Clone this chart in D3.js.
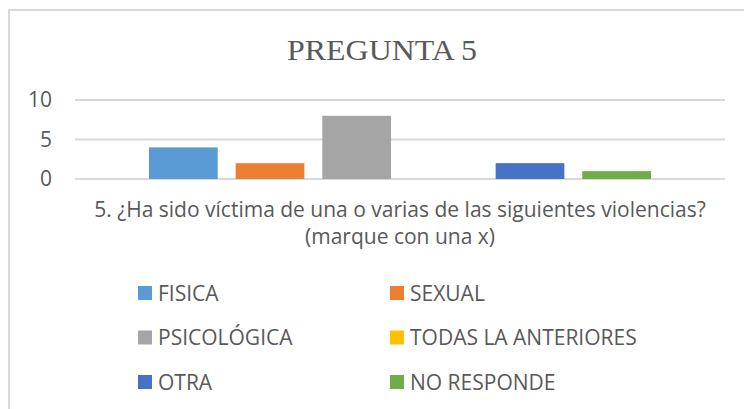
<!DOCTYPE html>
<html>
<head>
<meta charset="utf-8">
<script src="https://cdn.jsdelivr.net/npm/d3@7"></script>
<style>
  body { margin: 0; background: #fff; }
  svg { display: block; }
  text { font-family: "Open Sans", Calibri, sans-serif; fill: #595959; }
</style>
</head>
<body>
<div id="chart-area"></div>
<script>
// chart values
const series = ["FISICA", "SEXUAL", "PSICOLÓGICA", "TODAS LA ANTERIORES", "OTRA", "NO RESPONDE"];
const values = [4, 2, 8, 0, 2, 1];
const colors = ["#5B9BD5", "#ED7D31", "#A5A5A5", "#FFC000", "#4472C4", "#70AD47"];
const category = ["5. ¿Ha sido víctima de una o varias de las siguientes violencias?", "(marque con una x)"];
const yTicks = [0, 5, 10];
const title = "PREGUNTA 5";

let W = 744, H = 409;
let margin = { top: 100, left: 75, right: 19 };
let width = W - margin.left - margin.right,
  height = 179 - margin.top;

let svg = d3.select("#chart-area").append("svg")
  .attr("width", W).attr("height", H);

// chart border (only top/left visible in the crop)
svg.append("rect")
  .attr("x", 9).attr("y", 10)
  .attr("width", 760).attr("height", 420)
  .attr("fill", "none").attr("stroke", "#d9d9d9").attr("stroke-width", 2);

svg.append("text")
  .attr("x", 382).attr("y", 60)
  .attr("text-anchor", "middle")
  .attr("textLength", 190).attr("lengthAdjust", "spacingAndGlyphs")
  .style("font-family", "'Liberation Serif', 'Times New Roman', serif")
  .style("font-size", "29px")
  .text(title);

let g = svg.append("g")
  .attr("transform", "translate(" + margin.left + "," + margin.top + ")");

let x0 = d3.scaleBand().domain([category[0]]).range([0, width]).paddingInner(0).paddingOuter(0.125);
let x1 = d3.scaleBand().domain(series).range([0, x0.bandwidth()]).paddingInner(0.207).paddingOuter(0.1035);
let y = d3.scaleLinear().domain([0, 10]).range([height, 0]);

// gridlines
g.selectAll(".grid").data(yTicks).enter().append("line")
  .attr("x1", 0).attr("x2", width)
  .attr("y1", d => y(d)).attr("y2", d => y(d))
  .attr("stroke", "#d9d9d9").attr("stroke-width", 2);

let yAxis = d3.axisLeft(y).tickValues(yTicks).tickSize(0).tickPadding(23);
let ya = g.append("g").call(yAxis);
ya.select(".domain").remove();
ya.selectAll("text").style("font-size", "21px").style("fill", "#595959")
  .style("font-family", "'Open Sans', Calibri, sans-serif");

// bars
g.selectAll(".bar").data(series).enter().append("rect")
  .attr("class", "bar")
  .attr("x", d => x0(category[0]) + x1(d))
  .attr("y", (d, i) => y(values[i]))
  .attr("width", x1.bandwidth())
  .attr("height", (d, i) => height - y(values[i]))
  .attr("fill", (d, i) => colors[i]);

// category label (two lines)
let cx = x0(category[0]) + x0.bandwidth() / 2;
g.append("text")
  .attr("text-anchor", "middle")
  .style("font-size", "21px")
  .selectAll("tspan").data(category).enter().append("tspan")
  .attr("x", cx)
  .attr("y", (d, i) => 117 + i * 27)
  .text(d => d);

// legend, 2 columns x 3 rows
let legend = svg.append("g");
let items = legend.selectAll(".leg").data(series).enter().append("g")
  .attr("transform", (d, i) => "translate(" + (138 + (i % 2) * 252) + "," + (286 + Math.floor(i / 2) * 44.5) + ")");
items.append("rect").attr("width", 14).attr("height", 14)
  .attr("fill", (d, i) => colors[i]);
items.append("text").attr("x", 20).attr("y", 14.5)
  .style("font-size", "21px")
  .text(d => d);
</script>
</body>
</html>
